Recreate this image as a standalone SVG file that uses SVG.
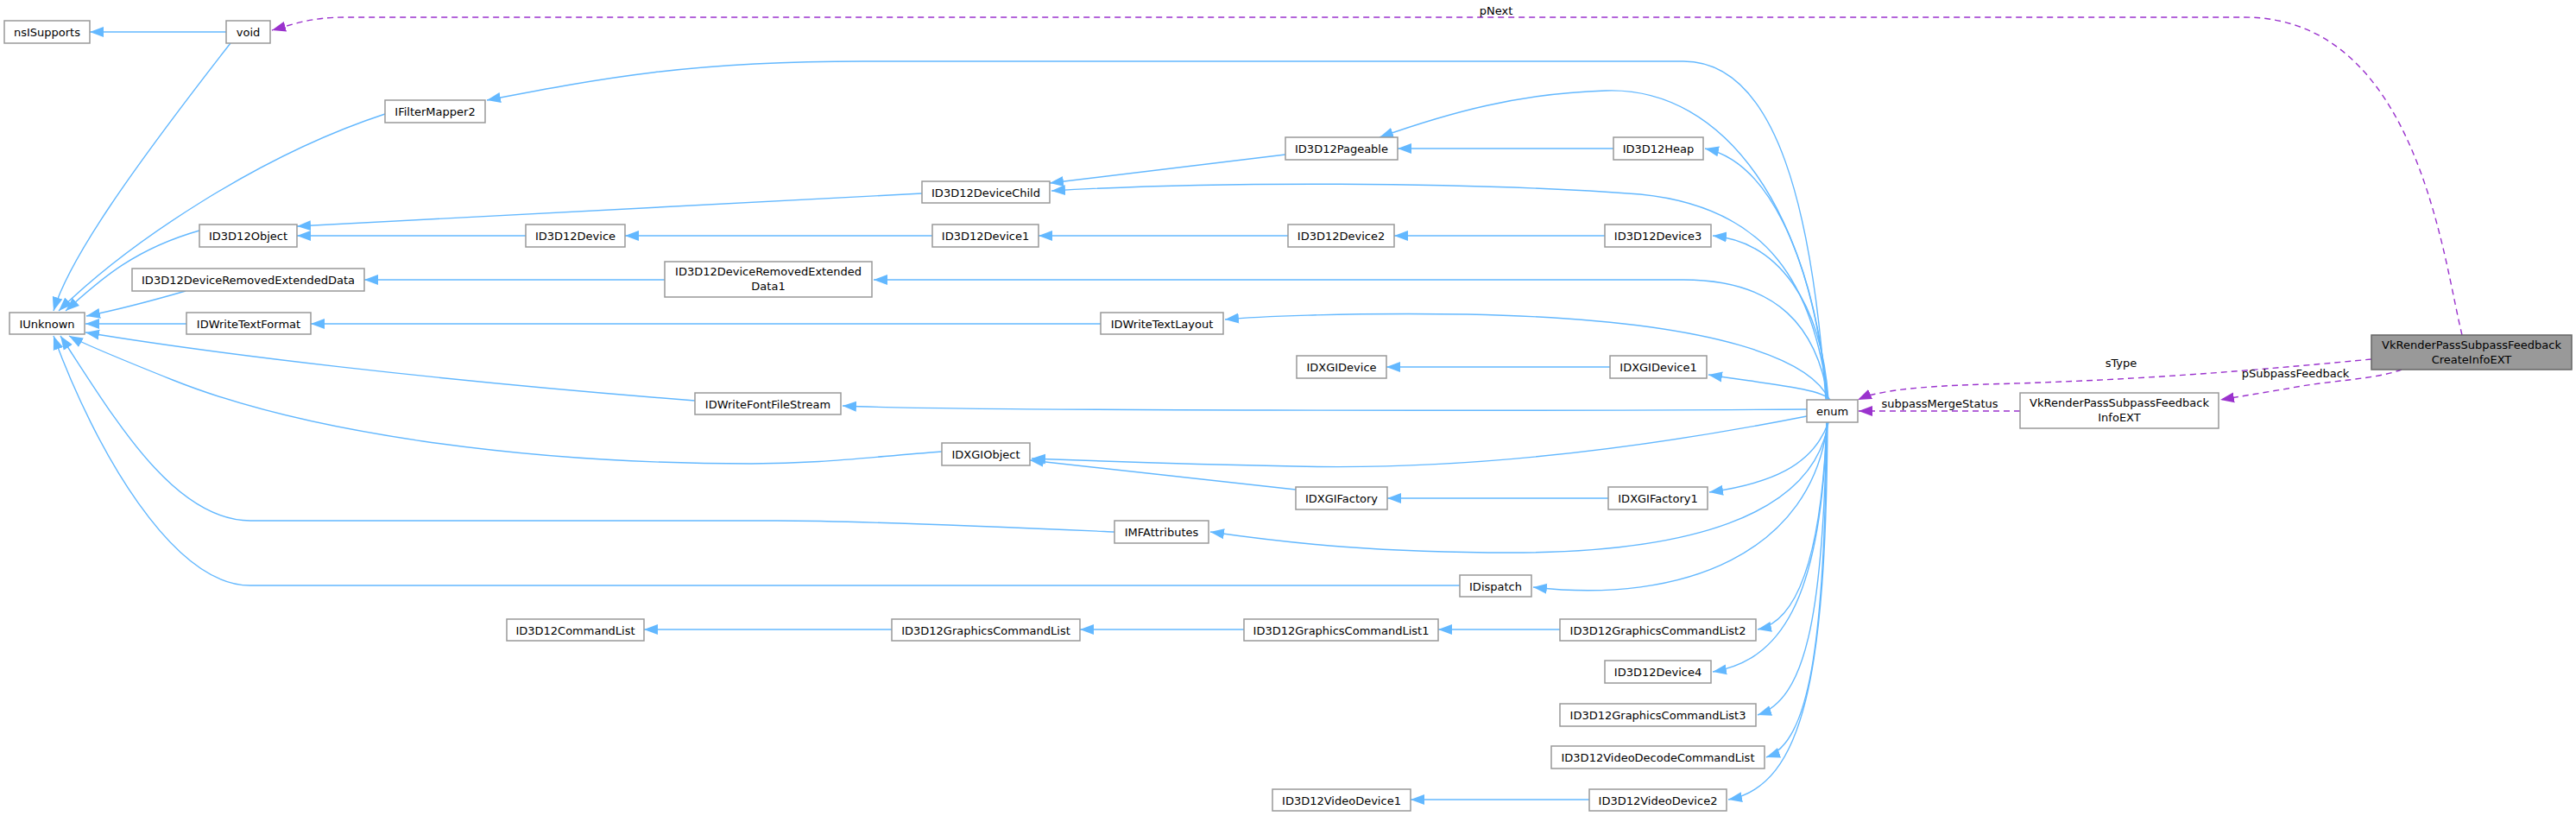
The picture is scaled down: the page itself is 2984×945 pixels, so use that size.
<svg xmlns="http://www.w3.org/2000/svg" width="2984" height="945" viewBox="0 0 2984 945">
<style>
.n rect{fill:#fff;stroke:#999;stroke-width:1.5}
.n text,.lbl{font-family:"DejaVu Sans",sans-serif;font-size:13px;fill:#000;text-anchor:middle}
.e{fill:none;stroke:#63b8ff;stroke-width:1.4;marker-end:url(#ab)}
.u{fill:none;stroke:#9a32cd;stroke-width:1.4;stroke-dasharray:7,5;marker-end:url(#ap)}
</style>
<defs>
<marker id="ab" markerUnits="userSpaceOnUse" markerWidth="18" markerHeight="14" refX="16" refY="7" orient="auto"><path d="M0,1 L16,7 L0,13 z" fill="#63b8ff"/></marker>
<marker id="ap" markerUnits="userSpaceOnUse" markerWidth="18" markerHeight="14" refX="16" refY="7" orient="auto"><path d="M0,1 L16,7 L0,13 z" fill="#9a32cd"/></marker>
</defs>
<rect width="2984" height="945" fill="#fff"/>
<g id="edges">
<path class="e" d="M262,37 L104,37"/>
<path class="e" d="M267,50 C150,200 80,300 62,360"/>
<path class="e" d="M446,132 C300,180 150,280 68,360"/>
<path class="e" d="M231,267 C150,290 110,330 76,360"/>
<path class="e" d="M215,337 C170,350 130,360 100,366"/>
<path class="e" d="M216,375 L99,375"/>
<path class="e" d="M805,464 C500,440 250,410 99,385"/>
<path class="e" d="M1091,523 C1000,530 950,537 870,537 C600,537 350,500 200,440 C150,420 100,400 80,389"/>
<path class="e" d="M1291,616 C1200,612 1000,603 900,603 L290,603 C200,603 130,480 70,389"/>
<path class="e" d="M1691,678 L290,678 C200,678 110,520 62,389"/>
<path class="e" d="M1068,224 L344,262"/>
<path class="e" d="M609,273 L344,273"/>
<path class="e" d="M1489,179 L1216,212"/>
<path class="e" d="M1080,273 L724,273"/>
<path class="e" d="M1492,273 L1203,273"/>
<path class="e" d="M1859,273 L1615,273"/>
<path class="e" d="M1869,172 L1619,172"/>
<path class="e" d="M770,324 L422,324"/>
<path class="e" d="M1275,375 L360,375"/>
<path class="e" d="M1865,425 L1606,425"/>
<path class="e" d="M1501,567 L1193,533"/>
<path class="e" d="M1863,577 L1607,577"/>
<path class="e" d="M1033,729 L746,729"/>
<path class="e" d="M1441,729 L1251,729"/>
<path class="e" d="M1807,729 L1666,729"/>
<path class="e" d="M1841,926 L1634,926"/>
<path class="e" d="M2115,463 C2100,250 2060,71 1950,71 L1000,71 C800,71 700,90 564,116"/>
<path class="e" d="M2116,463 C2100,250 2000,100 1860,105 C1760,108 1680,130 1598,159"/>
<path class="e" d="M2117,463 C2105,330 2060,190 1975,172"/>
<path class="e" d="M2118,463 C2100,330 2050,240 1900,225 C1700,210 1400,210 1218,221"/>
<path class="e" d="M2118,463 C2110,350 2060,280 1984,273"/>
<path class="e" d="M2118,463 C2105,380 2060,324 1950,324 L1012,324"/>
<path class="e" d="M2119,463 C2100,420 2000,370 1700,364 C1550,362 1450,367 1419,370"/>
<path class="e" d="M2120,463 C2110,450 2050,445 1979,434"/>
<path class="e" d="M2093,474 C1800,476 1100,476 976,470"/>
<path class="e" d="M2093,482 C1900,520 1700,545 1500,540 C1350,537 1250,533 1195,531"/>
<path class="e" d="M2118,489 C2100,540 2050,560 1980,570"/>
<path class="e" d="M2118,489 C2100,600 1950,640 1750,640 C1600,640 1500,630 1402,616"/>
<path class="e" d="M2117,489 C2100,640 1950,700 1776,680"/>
<path class="e" d="M2116,489 C2110,650 2080,720 2036,729"/>
<path class="e" d="M2116,489 C2110,700 2060,765 1984,778"/>
<path class="e" d="M2116,489 C2112,720 2090,810 2036,828"/>
<path class="e" d="M2116,489 C2114,750 2095,860 2046,877"/>
<path class="e" d="M2117,489 C2115,780 2090,910 2002,926"/>
<path class="u" d="M2852,388 C2830,300 2800,20 2600,20 L400,20 C360,20 340,28 315,35"/>
<path class="u" d="M2747,416 C2650,425 2500,440 2300,445 C2200,448 2170,455 2152,463"/>
<path class="u" d="M2782,428 C2750,440 2700,440 2650,450 L2572,463"/>
<path class="u" d="M2340,476 L2153,476"/>
<text class="lbl" x="1733" y="17">pNext</text>
<text class="lbl" x="2457" y="425">sType</text>
<text class="lbl" x="2659" y="437">pSubpassFeedback</text>
<text class="lbl" x="2247" y="472">subpassMergeStatus</text>
</g>
<g id="nsISupports" class="n"><rect x="5" y="24" width="99" height="26"/><text x="54.5" y="42">nsISupports</text></g>
<g id="void" class="n"><rect x="262" y="24" width="51" height="26"/><text x="287.5" y="42">void</text></g>
<g id="IFilterMapper2" class="n"><rect x="446" y="116" width="116" height="26"/><text x="504" y="134">IFilterMapper2</text></g>
<g id="ID3D12Object" class="n"><rect x="231" y="260" width="113" height="26"/><text x="287.5" y="278">ID3D12Object</text></g>
<g id="ID3D12Device" class="n"><rect x="609" y="260" width="115" height="26"/><text x="666.5" y="278">ID3D12Device</text></g>
<g id="ID3D12DeviceRemovedExtendedData" class="n"><rect x="153" y="311" width="269" height="26"/><text x="287.5" y="329">ID3D12DeviceRemovedExtendedData</text></g>
<g id="ID3D12DeviceRemovedExtendedData1" class="n"><rect x="770" y="303" width="240" height="41"/><text x="890" y="319">ID3D12DeviceRemovedExtended</text><text x="890" y="336">Data1</text></g>
<g id="IUnknown" class="n"><rect x="11" y="362" width="87" height="25"/><text x="54.5" y="380">IUnknown</text></g>
<g id="IDWriteTextFormat" class="n"><rect x="216" y="362" width="144" height="25"/><text x="288" y="380">IDWriteTextFormat</text></g>
<g id="IDWriteFontFileStream" class="n"><rect x="805" y="455" width="169" height="25"/><text x="889.5" y="473">IDWriteFontFileStream</text></g>
<g id="ID3D12Pageable" class="n"><rect x="1489" y="159" width="130" height="26"/><text x="1554" y="177">ID3D12Pageable</text></g>
<g id="ID3D12Heap" class="n"><rect x="1869" y="159" width="104" height="26"/><text x="1921" y="177">ID3D12Heap</text></g>
<g id="ID3D12DeviceChild" class="n"><rect x="1068" y="210" width="148" height="25"/><text x="1142" y="228">ID3D12DeviceChild</text></g>
<g id="ID3D12Device1" class="n"><rect x="1080" y="260" width="123" height="26"/><text x="1141.5" y="278">ID3D12Device1</text></g>
<g id="ID3D12Device2" class="n"><rect x="1492" y="260" width="123" height="26"/><text x="1553.5" y="278">ID3D12Device2</text></g>
<g id="ID3D12Device3" class="n"><rect x="1859" y="260" width="123" height="26"/><text x="1920.5" y="278">ID3D12Device3</text></g>
<g id="IDWriteTextLayout" class="n"><rect x="1275" y="362" width="142" height="25"/><text x="1346" y="380">IDWriteTextLayout</text></g>
<g id="IDXGIDevice" class="n"><rect x="1502" y="412" width="104" height="26"/><text x="1554" y="430">IDXGIDevice</text></g>
<g id="IDXGIDevice1" class="n"><rect x="1865" y="412" width="112" height="26"/><text x="1921" y="430">IDXGIDevice1</text></g>
<g id="enum" class="n"><rect x="2093" y="463" width="59" height="26"/><text x="2122.5" y="481">enum</text></g>
<g id="IDXGIObject" class="n"><rect x="1091" y="513" width="102" height="26"/><text x="1142" y="531">IDXGIObject</text></g>
<g id="IDXGIFactory" class="n"><rect x="1501" y="564" width="106" height="26"/><text x="1554" y="582">IDXGIFactory</text></g>
<g id="IDXGIFactory1" class="n"><rect x="1863" y="564" width="115" height="26"/><text x="1920.5" y="582">IDXGIFactory1</text></g>
<g id="IMFAttributes" class="n"><rect x="1291" y="603" width="109" height="26"/><text x="1345.5" y="621">IMFAttributes</text></g>
<g id="IDispatch" class="n"><rect x="1691" y="666" width="83" height="25"/><text x="1732.5" y="684">IDispatch</text></g>
<g id="ID3D12CommandList" class="n"><rect x="587" y="717" width="159" height="25"/><text x="666.5" y="735">ID3D12CommandList</text></g>
<g id="ID3D12GraphicsCommandList" class="n"><rect x="1033" y="717" width="218" height="25"/><text x="1142" y="735">ID3D12GraphicsCommandList</text></g>
<g id="ID3D12GraphicsCommandList1" class="n"><rect x="1441" y="717" width="225" height="25"/><text x="1553.5" y="735">ID3D12GraphicsCommandList1</text></g>
<g id="ID3D12GraphicsCommandList2" class="n"><rect x="1807" y="717" width="227" height="25"/><text x="1920.5" y="735">ID3D12GraphicsCommandList2</text></g>
<g id="ID3D12Device4" class="n"><rect x="1859" y="765" width="123" height="26"/><text x="1920.5" y="783">ID3D12Device4</text></g>
<g id="ID3D12GraphicsCommandList3" class="n"><rect x="1807" y="815" width="227" height="26"/><text x="1920.5" y="833">ID3D12GraphicsCommandList3</text></g>
<g id="ID3D12VideoDecodeCommandList" class="n"><rect x="1797" y="864" width="247" height="26"/><text x="1920.5" y="882">ID3D12VideoDecodeCommandList</text></g>
<g id="ID3D12VideoDevice1" class="n"><rect x="1474" y="914" width="160" height="25"/><text x="1554" y="932">ID3D12VideoDevice1</text></g>
<g id="ID3D12VideoDevice2" class="n"><rect x="1841" y="914" width="159" height="25"/><text x="1920.5" y="932">ID3D12VideoDevice2</text></g>
<g id="VkRenderPassSubpassFeedbackInfoEXT" class="n"><rect x="2340" y="455" width="230" height="41"/><text x="2455" y="471">VkRenderPassSubpassFeedback</text><text x="2455" y="488">InfoEXT</text></g>
<g id="VkRenderPassSubpassFeedbackCreateInfoEXT" class="n"><rect x="2747" y="388" width="232" height="40" style="fill:#999;stroke:#666"/><text x="2863" y="404">VkRenderPassSubpassFeedback</text><text x="2863" y="421">CreateInfoEXT</text></g>
</svg>
